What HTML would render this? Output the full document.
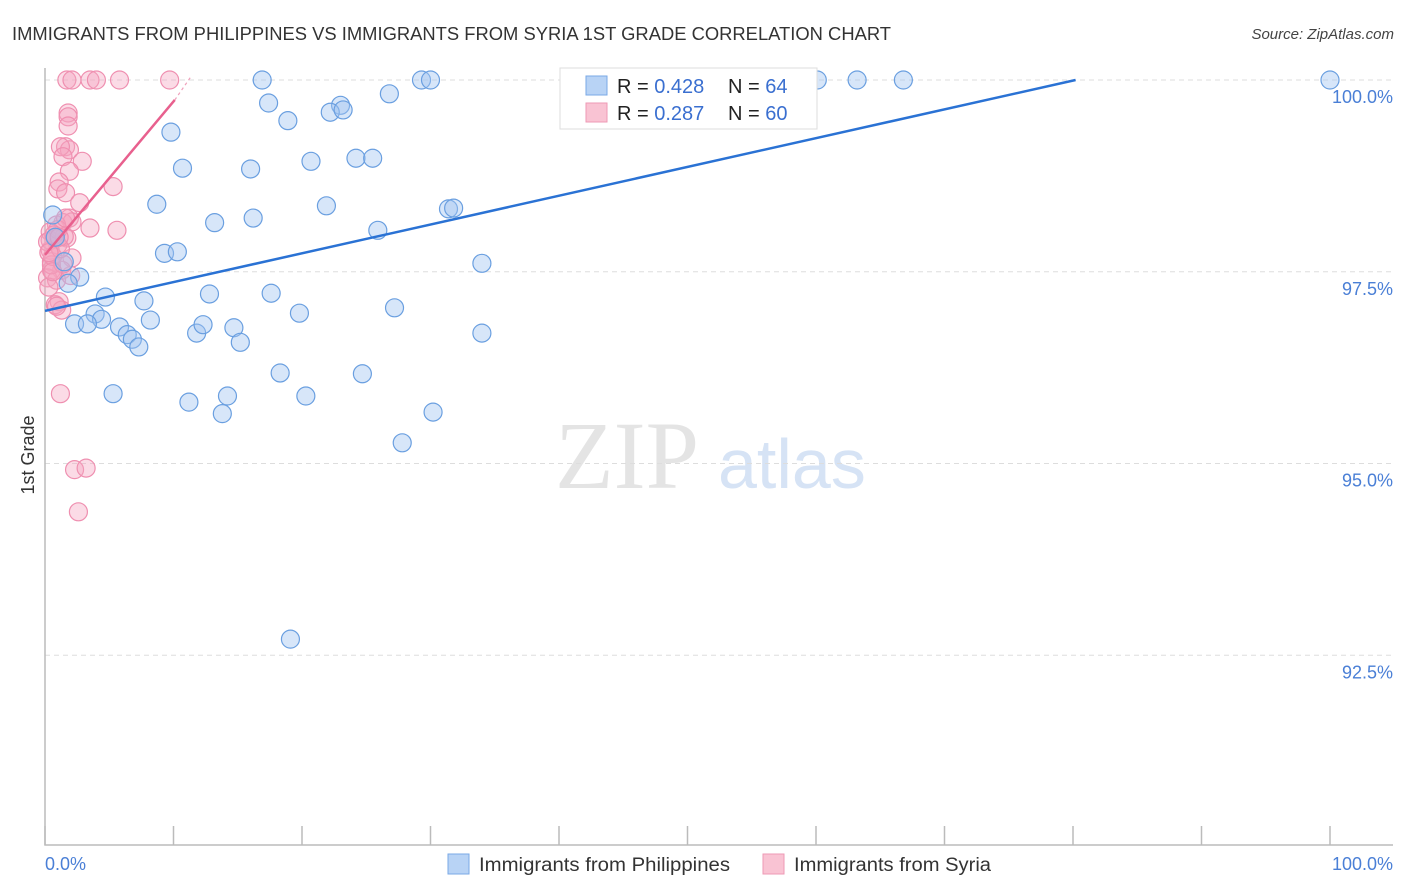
<!DOCTYPE html>
<html><head><meta charset="utf-8"><style>
body{margin:0;background:#fff;font-family:"Liberation Sans",sans-serif}
svg{display:block}
</style></head><body>
<svg id="chart" width="1406" height="892" viewBox="0 0 1406 892" xmlns="http://www.w3.org/2000/svg">
<text x="12" y="40" font-size="18" fill="#333" textLength="879" lengthAdjust="spacingAndGlyphs">IMMIGRANTS FROM PHILIPPINES VS IMMIGRANTS FROM SYRIA 1ST GRADE CORRELATION CHART</text>
<text x="1394" y="39" font-size="15" fill="#444" font-style="italic" text-anchor="end">Source: ZipAtlas.com</text>
<g>
<text x="555" y="488" font-size="96" fill="#e4e4e4" font-family="Liberation Serif,serif">ZIP</text>
<text x="718" y="488" font-size="70" fill="#d6e3f5">atlas</text>
</g>
<g id="grid"></g>
<g id="axes"></g>
<g id="pts"></g>
<g id="trends"></g>
<text transform="translate(34,455) rotate(-90)" font-size="18" fill="#333" text-anchor="middle">1st Grade</text>
<g>
<rect x="560" y="68" width="257" height="61" fill="#fff" stroke="#ddd"/>
<rect x="586" y="76" width="21" height="19" fill="#b8d3f5" stroke="#7aa8e6"/>
<rect x="586" y="103" width="21" height="19" fill="#f9c3d3" stroke="#ee99b4"/>
<text x="617" y="93" font-size="20" fill="#222">R = <tspan fill="#3a6fd0">0.428</tspan></text>
<text x="728" y="93" font-size="20" fill="#222">N = <tspan fill="#3a6fd0">64</tspan></text>
<text x="617" y="120" font-size="20" fill="#222">R = <tspan fill="#3a6fd0">0.287</tspan></text>
<text x="728" y="120" font-size="20" fill="#222">N = <tspan fill="#3a6fd0">60</tspan></text>
</g>
<g>
<rect x="448" y="854" width="21" height="20" fill="#b8d3f5" stroke="#7aa8e6"/>
<text x="479" y="871" font-size="19" fill="#333" textLength="251" lengthAdjust="spacingAndGlyphs">Immigrants from Philippines</text>
<rect x="763" y="854" width="21" height="20" fill="#f9c3d3" stroke="#ee99b4"/>
<text x="794" y="871" font-size="19" fill="#333" textLength="197" lengthAdjust="spacingAndGlyphs">Immigrants from Syria</text>
</g>
</svg>
<script>
const yTicks=[100,97.5,95,92.5];
const yTickLabels=["100.0%","97.5%","95.0%","92.5%"];
const xEndLabels=["0.0%","100.0%"];
const blueX=[16.9,29.3,30.0,60.1,63.2,66.8,100,17.4,26.8,23.0,22.2,23.2,18.9,9.8,10.7,16.0,20.7,24.2,25.5,8.7,21.9,31.4,31.8,13.2,16.2,25.9,9.3,10.3,34.0,0.6,1.5,2.7,1.8,4.7,7.7,12.8,17.6,19.8,27.2,3.9,4.4,2.3,3.3,5.8,6.4,8.2,6.8,7.3,11.8,12.3,14.7,15.2,34.0,18.3,24.7,5.3,11.2,14.2,20.3,13.8,30.2,27.8,19.1,0.8];
const blueY=[100,100,100,100,100,100,100,99.70,99.82,99.67,99.58,99.61,99.47,99.32,98.85,98.84,98.94,98.98,98.98,98.38,98.36,98.32,98.33,98.14,98.20,98.04,97.74,97.76,97.61,98.24,97.63,97.43,97.35,97.17,97.12,97.21,97.22,96.96,97.03,96.95,96.88,96.82,96.82,96.78,96.68,96.87,96.62,96.52,96.70,96.81,96.77,96.58,96.70,96.18,96.17,95.91,95.80,95.88,95.88,95.65,95.67,95.27,92.71,97.95];
const pinkX=[1.7,2.1,3.5,4.0,5.8,9.7,1.8,1.8,1.8,1.6,1.9,1.2,1.4,2.9,1.9,1.1,1.0,1.6,2.7,5.3,1.9,1.4,2.1,0.9,3.5,5.6,0.4,0.8,1.7,1.0,0.4,2.1,0.5,1.3,0.5,0.2,0.9,1.1,0.8,1.3,1.2,2.3,3.2,2.6,0.4,0.5,0.2,1.5,1.0,0.6,2.0,0.3,1.4,0.7,1.2,0.9,0.3,1.6,0.6,1.1];
const pinkY=[100,100,100,100,100,100,99.57,99.52,99.40,99.13,99.09,99.13,99.00,98.94,98.81,98.67,98.58,98.53,98.40,98.61,98.20,98.14,98.15,98.11,98.07,98.04,98.02,97.93,97.94,97.85,97.78,97.68,97.63,97.52,97.52,97.42,97.39,97.11,97.07,97.00,95.91,94.92,94.94,94.37,97.91,97.59,97.89,97.96,98.05,97.70,97.45,97.30,97.60,97.98,97.80,97.05,97.75,98.20,97.50,97.95];
const blueTrend=[[0,96.99],[80.2,100]];
const pinkTrend=[[0,97.72],[10.1,99.74]];
const pinkTrendDash=[[10.1,99.74],[11.3,100.03]];
const NS="http://www.w3.org/2000/svg";
const X=v=>45+v*12.85, Y=v=>80+(100-v)*76.7;
function mk(tag,attrs,parent){const e=document.createElementNS(NS,tag);for(const k in attrs)e.setAttribute(k,attrs[k]);document.getElementById(parent).appendChild(e);return e;}
yTicks.forEach((t,i)=>{
 const l=mk('line',{x1:45,x2:1393,y1:Y(t),y2:Y(t),stroke:'#ddd','stroke-dasharray':'5,4'},'grid');
 
 
 const tx=mk('text',{x:1393,y:Y(t)+23,'font-size':18,fill:'#4a7fd6','text-anchor':'end'},'grid');
 tx.textContent=yTickLabels[i];
 
 
});
const ax=mk('path',{d:'M45 68 V845 H1393',fill:'none',stroke:'#bbb','stroke-width':1.5},'axes');


for(let i=0;i<=10;i++){
 const t=mk('line',{x1:X(i*10),x2:X(i*10),y1:826,y2:845,stroke:'#bbb','stroke-width':1.5},'axes');
 
 
}
[[0,'start',45],[100,'end',1393]].forEach((d,i)=>{
 const t=mk('text',{x:d[2],y:870,'font-size':18,fill:'#4a7fd6','text-anchor':d[1]},'axes');
 t.textContent=xEndLabels[i];
 
 
});
pinkX.forEach((v,i)=>{
 const c=mk('circle',{cx:X(v),cy:Y(pinkY[i]),r:9,fill:'rgba(245,165,192,0.4)',stroke:'#ef8fb0','stroke-width':1.2},'pts');
 
 
});
blueX.forEach((v,i)=>{
 const c=mk('circle',{cx:X(v),cy:Y(blueY[i]),r:9,fill:'rgba(160,195,240,0.42)',stroke:'#6a9fe0','stroke-width':1.2},'pts');
 
 
});
const bt=mk('line',{x1:X(blueTrend[0][0]),y1:Y(blueTrend[0][1]),x2:X(blueTrend[1][0]),y2:Y(blueTrend[1][1]),stroke:'#2a72d4','stroke-width':2.5},'trends');


const pt=mk('line',{x1:X(pinkTrend[0][0]),y1:Y(pinkTrend[0][1]),x2:X(pinkTrend[1][0]),y2:Y(pinkTrend[1][1]),stroke:'#e8608e','stroke-width':2.5},'trends');


const pd=mk('line',{x1:X(pinkTrendDash[0][0]),y1:Y(pinkTrendDash[0][1]),x2:X(pinkTrendDash[1][0]),y2:Y(pinkTrendDash[1][1]),stroke:'#f0a0bb','stroke-width':1.2,'stroke-dasharray':'3,3'},'trends');


</script>
</body></html>
